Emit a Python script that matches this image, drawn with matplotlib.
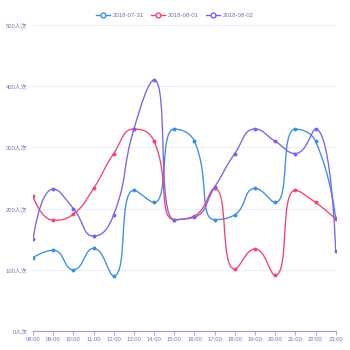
import numpy as np
import matplotlib
matplotlib.use("Agg")
import matplotlib.pyplot as plt
from matplotlib.path import Path
from matplotlib.patches import PathPatch
from matplotlib.lines import Line2D

plt.rcParams['font.family'] = ['Liberation Sans', 'Noto Sans CJK SC', 'DejaVu Sans']

hours = ['08:00', '09:00', '10:00', '11:00', '12:00', '13:00', '14:00', '15:00',
         '16:00', '17:00', '18:00', '19:00', '20:00', '21:00', '22:00', '23:00']
jul31 = [120, 132, 100, 135, 90, 230, 210, 330, 310, 182, 190, 233, 210, 330, 310, 184]
aug01 = [220, 181, 191, 233, 290, 330, 310, 182, 188, 233, 101, 134, 91, 230, 210, 183]
aug02 = [150, 232, 200, 155, 190, 330, 410, 182, 186, 235, 290, 330, 310, 290, 330, 131]
series = [('2018-07-31', jul31, '#3a8ee6'),
          ('2018-08-01', aug01, '#f4436e'),
          ('2018-08-02', aug02, '#7b62e6')]
yticks = [0, 100, 200, 300, 400, 500]
smooth = 0.5


def smooth_path(ax, xs, ys):
    # bezier smoothing done in pixel space, clamped so curves never pass a neighbour's extreme
    pts = ax.transData.transform(np.column_stack([xs, ys]))
    n = len(pts)
    verts = [pts[0]]
    codes = [Path.MOVETO]
    cp0 = pts[0].copy()
    for i in range(1, n):
        x, y = pts[i]
        px, py = pts[i - 1]
        if i == n - 1:
            cp1 = np.array([x, y])
            nxt0 = None
        else:
            nx, ny = pts[i + 1]
            vx, vy = nx - px, ny - py
            len_prev = np.hypot(x - px, y - py)
            len_next = np.hypot(nx - x, ny - y)
            r = len_next / (len_next + len_prev)
            ncx = x + vx * smooth * r
            ncy = y + vy * smooth * r
            ncx = max(min(ncx, max(nx, x)), min(nx, x))
            ncy = max(min(ncy, max(ny, y)), min(ny, y))
            vx, vy = ncx - x, ncy - y
            c1x = x - vx * len_prev / len_next
            c1y = y - vy * len_prev / len_next
            c1x = max(min(c1x, max(px, x)), min(px, x))
            c1y = max(min(c1y, max(py, y)), min(py, y))
            vx, vy = x - c1x, y - c1y
            ncx = x + vx * len_next / len_prev
            ncy = y + vy * len_next / len_prev
            cp1 = np.array([c1x, c1y])
            nxt0 = np.array([ncx, ncy])
        verts += [cp0, cp1, pts[i]]
        codes += [Path.CURVE4] * 3
        cp0 = nxt0
    verts = ax.transData.inverted().transform(np.array(verts))
    return Path(verts, codes)


fig = plt.figure(figsize=(3.5, 3.5), dpi=100)
ax = fig.add_axes([33 / 350, 19 / 350, 302.7 / 350, 306 / 350])
x = np.arange(len(hours))
ax.set_xlim(0, len(hours) - 1)
ax.set_ylim(0, 500)

for label, vals, color in series:
    path = smooth_path(ax, x, vals)
    ax.add_patch(PathPatch(path, facecolor='none', edgecolor=color, lw=0.95, zorder=3))
    ax.plot(x, vals, 'o', color=color, ms=1.8, zorder=4)

ax.set_yticks(yticks)
ax.set_yticklabels([f'{v}人次' for v in yticks])
ax.set_xticks(x)
ax.set_xticklabels(hours)
ax.grid(axis='y', color='#eceef9', lw=0.8)
ax.set_axisbelow(True)
for side in ['top', 'right', 'left']:
    ax.spines[side].set_visible(False)
ax.spines['bottom'].set_color('#97a0cc')
ax.spines['bottom'].set_linewidth(0.8)
ax.tick_params(axis='y', length=0, pad=4, labelsize=4.2, labelcolor='#6e79ad')
ax.tick_params(axis='x', length=3, width=0.6, color='#97a0cc', pad=1.5,
               labelsize=4.2, labelcolor='#6e79ad')

handles = [Line2D([0], [0], color=c, lw=1.0, marker='o', ms=3.5, mfc='white', mew=1.0)
           for _, _, c in series]
fig.legend(handles, [s[0] for s in series], loc='upper center', ncol=3,
           bbox_to_anchor=(0.5, 0.98), frameon=False, fontsize=4.4,
           labelcolor='#6e79ad', handlelength=2.2, columnspacing=1.2, handletextpad=0.5)

fig.savefig('out.png', dpi=100)
